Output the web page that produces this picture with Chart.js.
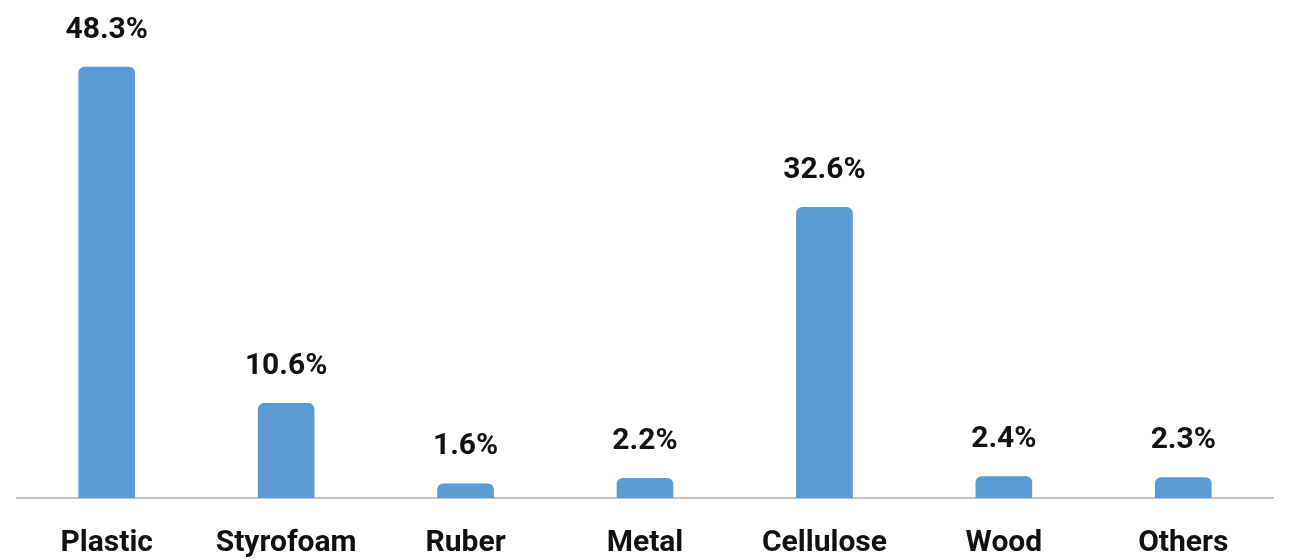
<!DOCTYPE html>
<html>
<head>
<meta charset="utf-8">
<script src="https://cdn.jsdelivr.net/npm/chart.js@4/dist/chart.umd.min.js"></script>
<style>
    html, body { margin: 0; padding: 0; background: #fff; }
    #wrap { width: 1294px; height: 560px; position: relative; }
</style>
</head>
<body>
<div id="wrap"><canvas id="bar-chart"></canvas></div>
<script>
    // ------------------------------------------------------
    // @Data
    // ------------------------------------------------------

    const categories = ['Plastic', 'Styrofoam', 'Ruber', 'Metal', 'Cellulose', 'Wood', 'Others'];
    const shares     = [48.3, 10.6, 1.6, 2.2, 32.6, 2.4, 2.3];

    const BAR_BLUE = '#5b9bd5';

    // value labels over each bar
    const valueLabels = {
        id: 'valueLabels',
        afterDatasetsDraw(chart) {
            const ctx = chart.ctx;
            const meta = chart.getDatasetMeta(0);
            ctx.save();
            ctx.font = 'bold 30px Roboto';
            ctx.fillStyle = '#111';
            ctx.textAlign = 'center';
            ctx.textBaseline = 'middle';
            meta.data.forEach((bar, i) => {
                ctx.fillText(shares[i].toFixed(1) + '%', bar.x, bar.y - 37);
            });
            ctx.restore();
        },
    };

    const barChartBox = document.getElementById('bar-chart');

    if (barChartBox) {
        new Chart(barChartBox.getContext('2d'), {
            type: 'bar',
            data: {
                labels: categories,
                datasets: [{
                    data            : shares,
                    backgroundColor : BAR_BLUE,
                    borderRadius    : { topLeft: 6, topRight: 6 },
                    borderSkipped   : 'bottom',
                    barThickness    : 56,
                }],
            },
            options: {
                responsive: true,
                maintainAspectRatio: false,
                animation: false,
                layout: {
                    padding: { top: 52, left: 17, right: 21, bottom: -28 },
                },
                plugins: {
                    legend: { display: false },
                    tooltip: { enabled: false },
                },
                scales: {
                    x: {
                        grid: { display: false, drawTicks: false },
                        border: { display: true, color: '#c4c4c4', width: 2 },
                        ticks: {
                            color: '#111',
                            padding: 27,
                            font: { family: 'Roboto', size: 30, weight: 'bold' },
                        },
                    },
                    y: {
                        display: false,
                        min: 0,
                        max: 50,
                    },
                },
            },
            plugins: [valueLabels],
        });
    }
</script>
</body>
</html>
